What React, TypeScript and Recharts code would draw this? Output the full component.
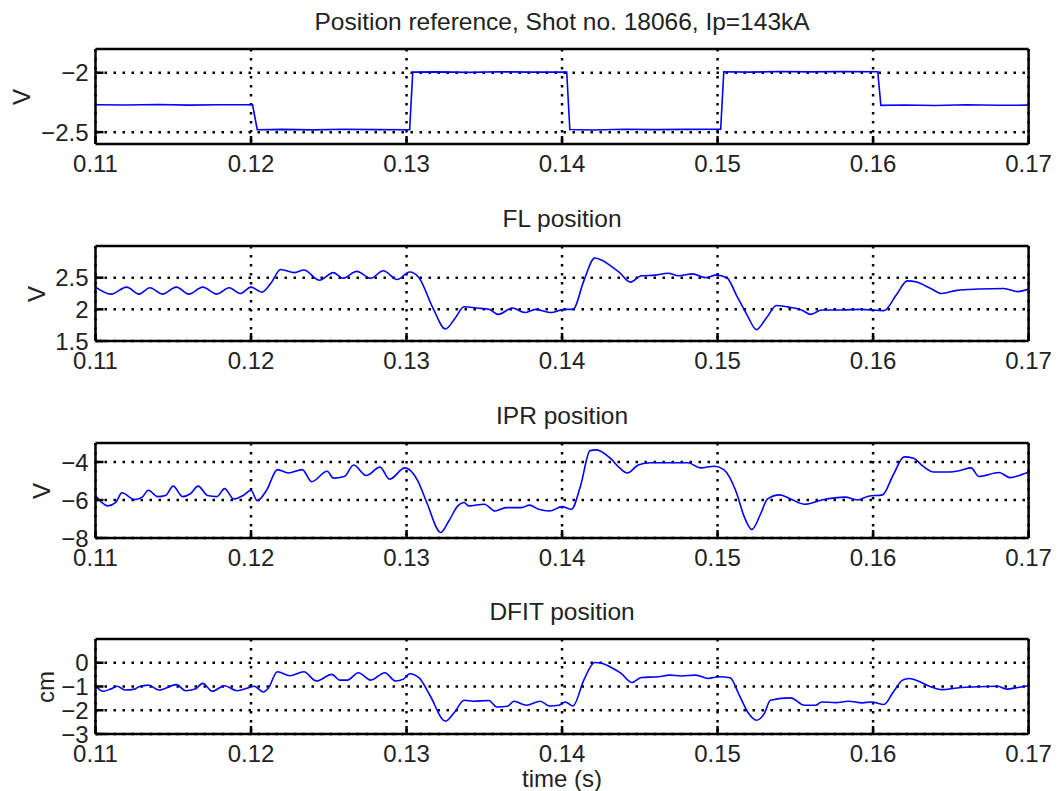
import { LineChart, Line, XAxis, YAxis, CartesianGrid } from "recharts";

const xTicks = [0.11, 0.12, 0.13, 0.14, 0.15, 0.16, 0.17];

// Position reference
const refTime = [0.11, 0.112, 0.114, 0.116, 0.118, 0.1201, 0.1204, 0.122, 0.124, 0.126, 0.128, 0.1302, 0.1304, 0.132, 0.134, 0.136, 0.138, 0.1403, 0.1405, 0.142, 0.144, 0.146, 0.148, 0.1502, 0.1504, 0.152, 0.154, 0.156, 0.158, 0.1603, 0.1605, 0.162, 0.164, 0.166, 0.168, 0.17];
const refValue = [-2.27, -2.272, -2.268, -2.273, -2.27, -2.27, -2.48, -2.477, -2.481, -2.476, -2.479, -2.48, -1.995, -1.993, -1.997, -1.992, -1.995, -1.994, -2.478, -2.482, -2.476, -2.479, -2.477, -2.476, -1.992, -1.995, -1.99, -1.993, -1.989, -1.992, -2.275, -2.272, -2.276, -2.27, -2.274, -2.273];

// FL position
const flTime = [0.11, 0.111, 0.112, 0.1128, 0.1135, 0.1143, 0.1152, 0.116, 0.1169, 0.1178, 0.1186, 0.1193, 0.12, 0.1207, 0.1213, 0.1219, 0.1228, 0.1234, 0.1244, 0.1253, 0.1259, 0.1268, 0.1277, 0.1285, 0.1294, 0.1302, 0.1308, 0.1317, 0.1325, 0.1331, 0.1337, 0.1345, 0.1353, 0.1359, 0.1368, 0.1376, 0.1383, 0.1393, 0.1401, 0.1407, 0.1414, 0.1421, 0.1426, 0.1431, 0.1437, 0.1444, 0.1451, 0.146, 0.1468, 0.1475, 0.1484, 0.1492, 0.1499, 0.1506, 0.1512, 0.1519, 0.1525, 0.1531, 0.1538, 0.1547, 0.1554, 0.156, 0.1567, 0.158, 0.1592, 0.1607, 0.1615, 0.1622, 0.1628, 0.1637, 0.1644, 0.1654, 0.1668, 0.1684, 0.1693, 0.17];
const flValue = [2.35, 2.24, 2.35, 2.24, 2.34, 2.24, 2.35, 2.24, 2.35, 2.24, 2.34, 2.25, 2.35, 2.27, 2.42, 2.63, 2.58, 2.62, 2.46, 2.58, 2.49, 2.6, 2.49, 2.61, 2.47, 2.59, 2.5, 2.02, 1.69, 1.85, 2.04, 2.02, 2.0, 1.92, 2.02, 1.95, 2.0, 1.95, 2.0, 2.0, 2.45, 2.81, 2.77, 2.69, 2.58, 2.43, 2.53, 2.54, 2.57, 2.53, 2.56, 2.5, 2.54, 2.5, 2.23, 1.91, 1.68, 1.85, 2.06, 2.03, 1.99, 1.92, 1.99, 1.99, 2.0, 1.98, 2.23, 2.45, 2.43, 2.33, 2.25, 2.3, 2.32, 2.33, 2.28, 2.32];

// IPR position
const iprTime = [0.11, 0.1104, 0.1108, 0.1113, 0.1117, 0.1125, 0.113, 0.1134, 0.114, 0.1145, 0.115, 0.1156, 0.1161, 0.1166, 0.1172, 0.1178, 0.1183, 0.1189, 0.1195, 0.12, 0.1204, 0.121, 0.1217, 0.1224, 0.1233, 0.1239, 0.1249, 0.1253, 0.126, 0.1266, 0.1274, 0.1283, 0.1289, 0.1299, 0.1307, 0.1313, 0.1322, 0.1327, 0.1333, 0.1337, 0.134, 0.135, 0.1357, 0.1364, 0.1374, 0.1379, 0.1385, 0.1392, 0.14, 0.1406, 0.1412, 0.1418, 0.1422, 0.1431, 0.1437, 0.1442, 0.1449, 0.1457, 0.147, 0.1481, 0.1489, 0.1498, 0.1504, 0.1512, 0.1517, 0.1522, 0.1528, 0.1532, 0.154, 0.1547, 0.1556, 0.1567, 0.1582, 0.159, 0.1597, 0.1606, 0.1613, 0.162, 0.1626, 0.1632, 0.1639, 0.1648, 0.1656, 0.1663, 0.1668, 0.1681, 0.1688, 0.1694, 0.17];
const iprValue = [-5.76, -6.13, -6.31, -6.13, -5.62, -5.98, -5.85, -5.49, -5.82, -5.76, -5.27, -5.82, -5.67, -5.27, -5.76, -5.82, -5.4, -5.95, -5.76, -5.49, -6.04, -5.49, -4.4, -4.58, -4.4, -5.04, -4.49, -4.85, -4.76, -4.16, -4.71, -4.27, -4.91, -4.31, -4.95, -6.13, -7.71, -7.13, -6.31, -6.13, -6.31, -6.22, -6.58, -6.4, -6.4, -6.27, -6.49, -6.58, -6.35, -6.49, -5.22, -3.4, -3.36, -3.8, -4.31, -4.58, -4.16, -4.04, -4.04, -4.04, -4.31, -4.22, -4.4, -5.58, -6.85, -7.55, -6.67, -5.95, -5.73, -5.95, -6.22, -6.0, -5.85, -6.0, -5.8, -5.73, -4.67, -3.73, -3.8, -4.22, -4.53, -4.53, -4.45, -4.31, -4.76, -4.55, -4.82, -4.71, -4.53];

// DFIT position
const dfitTime = [0.11, 0.1105, 0.111, 0.1114, 0.1119, 0.1125, 0.1128, 0.1134, 0.1141, 0.1152, 0.1158, 0.1164, 0.1169, 0.1175, 0.1183, 0.1191, 0.1199, 0.1202, 0.1208, 0.1211, 0.1217, 0.1225, 0.1234, 0.1242, 0.1252, 0.1257, 0.1262, 0.1269, 0.1277, 0.1286, 0.1293, 0.1298, 0.1302, 0.1308, 0.1315, 0.1325, 0.1331, 0.1337, 0.1343, 0.1353, 0.1358, 0.1365, 0.1369, 0.1377, 0.1386, 0.1392, 0.1398, 0.1402, 0.1407, 0.1414, 0.1421, 0.1426, 0.1432, 0.1438, 0.1445, 0.1451, 0.1462, 0.1469, 0.1477, 0.1486, 0.1494, 0.1501, 0.1508, 0.1514, 0.152, 0.1525, 0.153, 0.1534, 0.1547, 0.1556, 0.1563, 0.1567, 0.1576, 0.1584, 0.1593, 0.1599, 0.1607, 0.1613, 0.1619, 0.1623, 0.163, 0.1637, 0.1644, 0.1654, 0.1667, 0.168, 0.1686, 0.1693, 0.17];
const dfitValue = [-0.97, -1.2, -1.1, -0.99, -1.15, -1.11, -1.01, -0.94, -1.15, -0.92, -1.18, -1.11, -0.87, -1.2, -0.97, -1.18, -1.04, -0.99, -1.23, -1.08, -0.38, -0.55, -0.38, -0.77, -0.49, -0.73, -0.73, -0.42, -0.73, -0.42, -0.77, -0.69, -0.46, -0.63, -1.37, -2.46, -2.07, -1.58, -1.62, -1.59, -1.86, -1.83, -1.62, -1.79, -1.62, -1.82, -1.79, -1.65, -1.82, -0.73, 0.01, -0.03, -0.21, -0.45, -0.83, -0.62, -0.59, -0.52, -0.56, -0.52, -0.66, -0.59, -0.63, -1.37, -2.14, -2.42, -2.14, -1.58, -1.48, -1.79, -1.79, -1.65, -1.68, -1.62, -1.69, -1.65, -1.76, -1.23, -0.73, -0.66, -0.8, -1.01, -1.13, -1.06, -1.01, -0.99, -1.11, -1.04, -0.97];

const FONT = "'Liberation Sans', Arial, Helvetica, sans-serif";
const TEXT = "#222";
const PLOT_LEFT = 95.5;
const PLOT_RIGHT = 1028.6;
const PLOT_H = 95;

const fmtY = (v: number) => String(v).replace("-", "\u2212");
const fmtX = (v: number) => v.toFixed(2);

type PanelProps = {
  title: string;
  time: number[];
  values: number[];
  domain: [number, number];
  yTicks: number[];
  top: number;
  yLabel: string;
  yLabelX: number;
  curve: "linear" | "monotone";
};

function Panel({ title, time, values, domain, yTicks, top, yLabel, yLabelX, curve }: PanelProps) {
  const data = time.map((t, i) => ({ t, v: values[i] }));
  const tickStyle = { fontSize: 24, fill: TEXT, fontFamily: FONT };
  const frame = { stroke: "#000", strokeWidth: 2.5 };

  // axes are 1px thick bands, so the margins are 1px smaller than the plot offsets
  return (
    <>
      <div
        style={{
          position: "absolute",
          left: PLOT_LEFT,
          width: PLOT_RIGHT - PLOT_LEFT,
          top: top - 41,
          textAlign: "center",
          fontFamily: FONT,
          fontSize: 24.5,
          color: TEXT,
          lineHeight: "28px",
        }}
      >
        {title}
      </div>
      <div
        style={{
          position: "absolute",
          left: yLabelX - 20,
          top: top + PLOT_H / 2 - 14,
          width: 40,
          height: 28,
          lineHeight: "28px",
          textAlign: "center",
          fontFamily: FONT,
          fontSize: 24,
          color: TEXT,
          transform: "rotate(-90deg)",
        }}
      >
        {yLabel}
      </div>
      <div style={{ position: "absolute", left: 0, top: top - 10 }}>
        <LineChart
          width={1060}
          height={PLOT_H + 50}
          data={data}
          margin={{ top: 9, bottom: 39, left: PLOT_LEFT - 1, right: 1060 - PLOT_RIGHT - 1 }}
        >
          <CartesianGrid
            stroke="#000"
            strokeWidth={2.5}
            strokeDasharray="2.5 6.5"
            horizontalValues={yTicks}
            verticalValues={xTicks}
          />
          <XAxis
            dataKey="t"
            type="number"
            domain={[0.11, 0.17]}
            ticks={xTicks}
            interval={0}
            height={1}
            tickFormatter={fmtX}
            tick={tickStyle}
            tickSize={-8}
            tickMargin={19}
            axisLine={frame}
            tickLine={frame}
            allowDataOverflow
          />
          <XAxis
            xAxisId="top"
            orientation="top"
            dataKey="t"
            type="number"
            domain={[0.11, 0.17]}
            ticks={xTicks}
            interval={0}
            height={1}
            tick={false}
            tickSize={-8}
            axisLine={frame}
            tickLine={frame}
            allowDataOverflow
          />
          <YAxis
            type="number"
            domain={domain}
            ticks={yTicks}
            interval={0}
            width={1}
            tickFormatter={fmtY}
            tick={tickStyle}
            tickSize={-8}
            tickMargin={15}
            axisLine={frame}
            tickLine={frame}
            allowDataOverflow
          />
          <YAxis
            yAxisId="right"
            orientation="right"
            type="number"
            domain={domain}
            ticks={yTicks}
            interval={0}
            width={1}
            tick={false}
            tickSize={-8}
            axisLine={frame}
            tickLine={frame}
            allowDataOverflow
          />
          <Line
            type={curve}
            dataKey="v"
            stroke="#0000ff"
            strokeWidth={1.6}
            dot={false}
            isAnimationActive={false}
          />
        </LineChart>
      </div>
    </>
  );
}

export default function App() {
  return (
    <div
      style={{
        position: "absolute",
        left: 0,
        top: 0,
        width: 1060,
        height: 791,
        background: "#fff",
        overflow: "hidden",
      }}
    >
      <Panel
        title="Position reference, Shot no. 18066, Ip=143kA"
        time={refTime}
        values={refValue}
        domain={[-2.6, -1.8]}
        yTicks={[-2.5, -2]}
        top={49}
        yLabel="V"
        yLabelX={22}
        curve="linear"
      />
      <Panel
        title="FL position"
        time={flTime}
        values={flValue}
        domain={[1.5, 3]}
        yTicks={[1.5, 2, 2.5]}
        top={246}
        yLabel="V"
        yLabelX={37}
        curve="monotone"
      />
      <Panel
        title="IPR position"
        time={iprTime}
        values={iprValue}
        domain={[-8, -3]}
        yTicks={[-8, -6, -4]}
        top={443}
        yLabel="V"
        yLabelX={42}
        curve="monotone"
      />
      <Panel
        title="DFIT position"
        time={dfitTime}
        values={dfitValue}
        domain={[-3, 1]}
        yTicks={[-3, -2, -1, 0]}
        top={639}
        yLabel="cm"
        yLabelX={46}
        curve="monotone"
      />
      <div
        style={{
          position: "absolute",
          left: PLOT_LEFT,
          width: PLOT_RIGHT - PLOT_LEFT,
          top: 765,
          textAlign: "center",
          fontFamily: FONT,
          fontSize: 24,
          color: TEXT,
          lineHeight: "28px",
        }}
      >
        time (s)
      </div>
    </div>
  );
}
